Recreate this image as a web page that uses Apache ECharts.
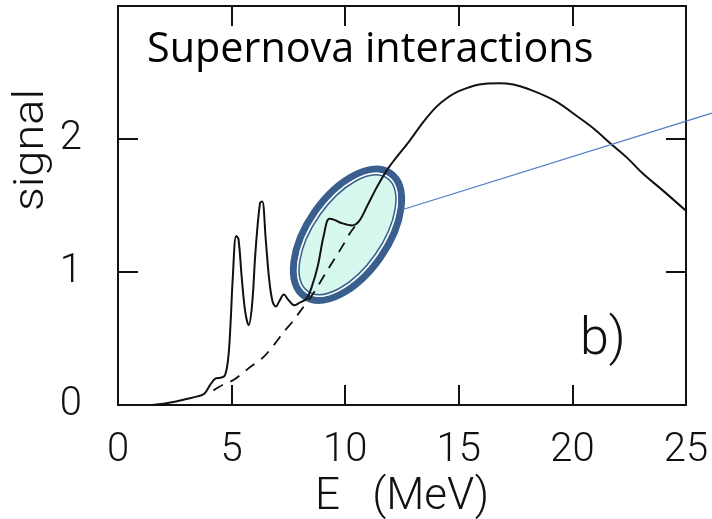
<!DOCTYPE html>
<html>
<head>
<meta charset="utf-8">
<script src="https://cdn.jsdelivr.net/npm/echarts@6/dist/echarts.min.js"></script>
<style>
  html, body { margin: 0; padding: 0; background: #fff; }
  #chart { width: 712px; height: 519px; }
</style>
</head>
<body>
<div id="chart"></div>
<script>
// Neutrino energy (MeV) and detector signal, full response with resonances
const energySolid = [1.5, 2.0, 2.5, 3.0, 3.5, 3.8, 4.05, 4.3, 4.5, 4.7, 4.85, 4.95, 5.05, 5.2, 5.3, 5.45, 5.6, 5.75, 5.9, 6.05, 6.25, 6.35, 6.5, 6.65, 6.8, 6.95, 7.1, 7.3, 7.5, 7.75, 8.0, 8.3, 8.55, 8.8, 9.05, 9.3, 9.55, 9.8, 10.3, 10.6, 10.95, 11.4, 11.85, 12.2, 12.85, 13.4, 14.0, 14.5, 15.0, 15.9, 16.8, 17.4, 18.0, 19.2, 20.3, 21.0, 21.65, 22.4, 23.1, 24.0, 25.0];
const signalSolid = [0.0, 0.01, 0.025, 0.045, 0.065, 0.085, 0.15, 0.2, 0.205, 0.22, 0.35, 0.6, 0.95, 1.27, 1.25, 0.95, 0.7, 0.6, 0.75, 1.15, 1.52, 1.53, 1.25, 0.95, 0.78, 0.74, 0.78, 0.83, 0.79, 0.75, 0.77, 0.8, 0.9, 1.05, 1.27, 1.4, 1.39, 1.37, 1.35, 1.38, 1.49, 1.64, 1.77, 1.85, 1.99, 2.12, 2.24, 2.31, 2.36, 2.41, 2.42, 2.41, 2.38, 2.29, 2.16, 2.07, 1.97, 1.86, 1.74, 1.61, 1.46];

// Smooth continuum without the resonances
const energyDashed = [4.2, 4.6, 5.1, 5.7, 6.4, 6.9, 7.3, 7.7, 8.0, 8.6, 9.1, 9.5, 9.9, 10.2, 10.6];
const signalDashed = [0.11, 0.15, 0.19, 0.27, 0.36, 0.46, 0.55, 0.63, 0.7, 0.84, 0.98, 1.09, 1.2, 1.29, 1.38];

const xTicks = [0, 5, 10, 15, 20, 25];
const yTicks = [0, 1, 2];

const title = 'Supernova interactions';
const panelTag = 'b)';
const xName = 'E   (MeV)';
const yName = 'signal';

// Highlight ellipse centre (data units) and the pointer line end points
const highlightCenter = [10.1, 1.28];
const pointerStart = [12.54, 1.47];
const pointerEnd = [26.14, 2.195];

const pair = (xs, ys) => xs.map((x, i) => [x, ys[i]]);

const numFont = { fontFamily: 'Roboto', fontWeight: 300, fontSize: 40, color: '#111' };
const frameLine = { show: true, onZero: false, lineStyle: { color: '#111', width: 2 } };
const tickStyle = { show: true, inside: true, length: 20, lineStyle: { color: '#111', width: 2 } };

const chart = echarts.init(document.getElementById('chart'), null, { renderer: 'canvas' });

const axisX = (pos, showLabel) => ({
  type: 'value', position: pos, min: 0, max: 25, interval: 5,
  axisLine: frameLine,
  axisTick: tickStyle,
  axisLabel: Object.assign({
    show: showLabel, margin: 26,
    formatter: v => (xTicks.indexOf(v) >= 0 ? String(v) : '')
  }, numFont),
  splitLine: { show: false }
});
const axisY = (pos, showLabel) => ({
  type: 'value', position: pos, min: 0, max: 3, interval: 1,
  axisLine: frameLine,
  axisTick: tickStyle,
  axisLabel: Object.assign({
    show: showLabel, margin: 36,
    formatter: v => (yTicks.indexOf(v) >= 0 ? String(v) : '')
  }, numFont),
  splitLine: { show: false }
});

const xb = axisX('bottom', true);
xb.name = xName;
xb.nameLocation = 'middle';
xb.nameGap = 68;
xb.nameTextStyle = { fontFamily: 'Roboto', fontWeight: 300, fontSize: 44, color: '#111' };

chart.setOption({
  animation: false,
  backgroundColor: '#fff',
  grid: { left: 118, right: 26, top: 6, bottom: 114, containLabel: false, outerBoundsMode: 'none' },
  xAxis: [xb, axisX('top', false)],
  yAxis: [axisY('left', true), axisY('right', false)],
  series: [
    {
      type: 'line', data: pair(energySolid, signalSolid), showSymbol: false,
      smooth: 0.35, lineStyle: { color: '#111', width: 2 }, z: 3
    },
    {
      type: 'line', data: pair(energyDashed, signalDashed), showSymbol: false,
      smooth: 0.3, lineStyle: { color: '#111', width: 1.8, type: [11, 8] }, z: 3
    }
  ]
});

function drawOverlay() {
  const c = chart.convertToPixel({ gridIndex: 0 }, highlightCenter);
  const p0 = chart.convertToPixel({ gridIndex: 0 }, pointerStart);
  const p1 = chart.convertToPixel({ gridIndex: 0 }, pointerEnd);
  const rot = 55 * Math.PI / 180;
  const navy = '#3a5f8e';
  chart.setOption({
    graphic: [
      {
        type: 'line', z: 10,
        shape: { x1: p0[0], y1: p0[1], x2: p1[0], y2: p1[1] },
        style: { stroke: '#4a7cc4', lineWidth: 1.2 }
      },
      {
        type: 'group', x: c[0], y: c[1], rotation: rot, z: 20,
        children: [
          { type: 'ellipse', shape: { cx: 0, cy: 0, rx: 75, ry: 40 },
            style: { fill: 'rgba(120, 232, 200, 0.3)', stroke: navy, lineWidth: 7 } },
          { type: 'ellipse', shape: { cx: 0, cy: 0, rx: 70.5, ry: 35.5 },
            style: { fill: 'none', stroke: '#ffffff', lineWidth: 1.5 } },
          { type: 'ellipse', shape: { cx: 0, cy: 0, rx: 69, ry: 34 },
            style: { fill: 'none', stroke: navy, lineWidth: 1.5 } }
        ]
      },
      {
        type: 'text', x: 147, y: 29, z: 30, scaleX: 0.984,
        style: { text: title, fontFamily: 'Open Sans', fontSize: 42, fill: '#000',
                 verticalAlign: 'top' }
      },
      {
        type: 'text', x: 580, y: 315, z: 30,
        style: { text: panelTag, fontFamily: 'Roboto', fontWeight: 300, fontSize: 52, fill: '#111',
                 verticalAlign: 'top' }
      },
      {
        type: 'text', x: 32, y: 150, z: 30, rotation: Math.PI / 2, scaleX: 1.12,
        style: { text: yName, fontFamily: 'Roboto', fontWeight: 300, fontSize: 42, fill: '#111',
                 align: 'center', verticalAlign: 'middle' }
      }
    ]
  });
}
drawOverlay();
</script>
</body>
</html>
